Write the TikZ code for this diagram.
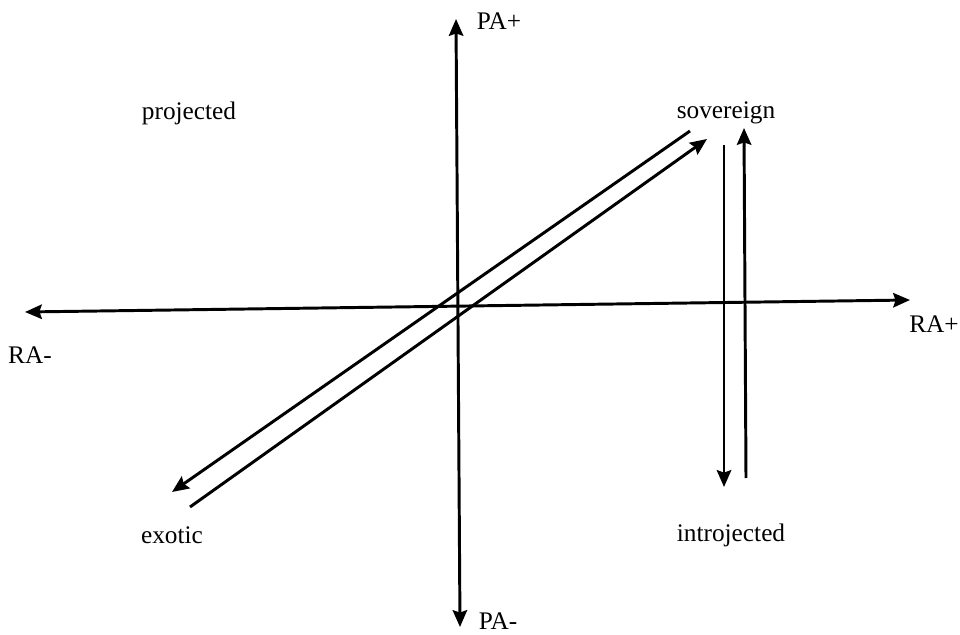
\documentclass[tikz,border=0pt]{standalone}
\usepackage{fontspec}
\setmainfont{Liberation Serif}
\usetikzlibrary{arrows.meta,positioning}
\tikzset{>={Stealth[length=4.2mm,width=3.6mm,inset=0.6mm]}}
\tikzset{
  arr/.style={->,line width=2.1pt},
  lbl/.style={font=\fontsize{18}{21}\selectfont,inner sep=0pt}
}

\begin{document}
\begin{tikzpicture}[x=0.025cm,y=-0.025cm]
			\useasboundingbox (0,0) rectangle (960,635);
			% axes
			\coordinate (PAtop) at (456,19);
			\coordinate (PAbot) at (460,627);
			\coordinate (RAleft) at (25,312);
			\coordinate (RAright) at (910,300);
			\draw[arr,<->] (PAbot)--(PAtop);
			\draw[arr,<->] (RAleft)--(RAright);
			% labels
			\node[lbl] (paplus) at (499,21) {PA+};
			\node[lbl] (paminus) at (498,621) {PA-};
			\node[lbl] (raminus) at (30,355) {RA-};
			\node[lbl] (raplus) at (934,324) {RA+};
			\node[lbl] (projected) at (189,113) {projected};
			\node[lbl] (sovereign) at (726,113) {sovereign};
			\node[lbl] (exotic) at (172,535) {exotic};
			\node[lbl] (introjected) at (731,535) {introjected};
			% diagonal pair
			\coordinate (d1s) at (690,131);
			\coordinate (d1e) at (172,492);
			\coordinate (d2s) at (190,507);
			\coordinate (d2e) at (707,139);
			\draw[arr] (d1s)--(d1e);
			\draw[arr] (d2s)--(d2e);
			% vertical pair
			\coordinate (v1s) at (724,145);
			\coordinate (v1e) at (724,487);
			\coordinate (v2s) at (746,478);
			\coordinate (v2e) at (744,128);
			\draw[arr] (v1s)--(v1e);
			\draw[arr] (v2s)--(v2e);
		\end{tikzpicture}
\end{document}
